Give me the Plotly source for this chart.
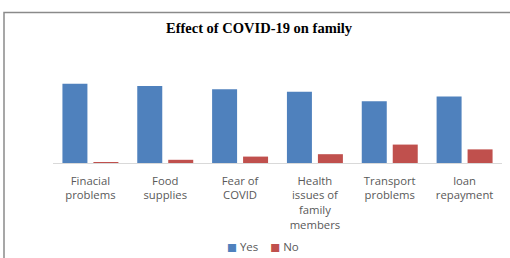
import plotly.graph_objects as go

categories = ["Finacial problems", "Food supplies", "Fear of COVID",
              "Health issues of family members", "Transport problems", "loan repayment"]
tick_labels = ["Finacial<br>problems", "Food<br>supplies", "Fear of<br>COVID",
               "Health<br>issues of<br>family<br>members", "Transport<br>problems", "loan<br>repayment"]
series_names = ["Yes", "No"]
yes_values = [99, 96, 92, 89, 77, 83]
no_values = [1, 4, 8, 11, 23, 17]

BLUE = "#4F81BD"
RED = "#C0504D"
TXT = "#595959"
FONT = "Open Sans"

W, H = 510, 258
L, R, T, B = 53, 8, 40, 95
plot_w = W - L - R
plot_h = H - T - B

fig = go.Figure()
fig.add_trace(go.Bar(x=categories, y=yes_values, name=series_names[0], marker_color=BLUE,
                     marker_line_width=0, width=0.334, offset=-0.374, showlegend=False))
fig.add_trace(go.Bar(x=categories, y=no_values, name=series_names[1], marker_color=RED,
                     marker_line_width=0, width=0.334, offset=0.04, showlegend=False))

def px_x(p):
    return (p - L) / plot_w

def px_y(p):
    return (H - B - p) / plot_h

# outer chart frame (left and top edges visible)
fig.add_shape(type="path", xref="paper", yref="paper",
              path=f"M {px_x(4)} {px_y(260)} L {px_x(4)} {px_y(12.5)} L {px_x(514)} {px_y(12.5)}",
              line=dict(color="#8a8a8a", width=1.5))

# legend as text
sq = "<span style='color:{c};font-family:DejaVu Sans;font-size:10.5px'>■</span>"
legend_text = (sq.format(c=BLUE) + f" {series_names[0]}    " +
               sq.format(c=RED) + f" {series_names[1]}")
fig.add_annotation(text=legend_text, xref="paper", yref="paper",
                   x=px_x(263), y=px_y(246), xanchor="center", yanchor="middle",
                   showarrow=False, font=dict(family=FONT, size=11.5, color=TXT))

fig.update_layout(
    width=W, height=H,
    margin=dict(l=L, r=R, t=T, b=B, autoexpand=False),
    paper_bgcolor="white", plot_bgcolor="white",
    barmode="group",
    title=dict(text="<b>Effect of COVID-19 on family</b>", xref="container", yref="container",
               x=259 / W, xanchor="center", y=1 - 28 / H, yanchor="middle",
               font=dict(family="Liberation Serif", size=14.5, color="black")),
    font=dict(family=FONT, size=11, color=TXT),
    showlegend=False,
)
fig.update_xaxes(type="category", tickvals=categories, ticktext=tick_labels,
                 showline=True, linecolor="#d9d9d9", linewidth=1, ticks="",
                 showgrid=False, ticklabelstandoff=7, tickangle=0, automargin=False,
                 tickfont=dict(family=FONT, size=11.3, color=TXT))
fig.update_yaxes(range=[0, plot_h / 0.801], visible=False, showgrid=False,
                 zeroline=False, automargin=False)

fig.write_html("out.html", config={"displayModeBar": False},
               post_script="document.body.style.margin='0px';document.body.style.overflow='hidden';")
